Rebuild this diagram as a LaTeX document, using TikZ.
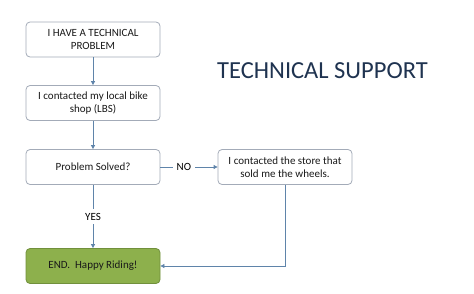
\documentclass[tikz,border=0pt]{standalone}
\usepackage{fontspec}
\setmainfont{Carlito}
\usepackage{xcolor}
\usetikzlibrary{arrows.meta, positioning}

\definecolor{boxline}{HTML}{A3ABB8}
\definecolor{arrowblue}{HTML}{5F84AA}
\definecolor{endgreen}{HTML}{8DB04C}
\definecolor{endline}{HTML}{71903C}
\definecolor{titlenavy}{HTML}{1F3350}

\tikzset{
    stepbox/.style={draw=boxline, thick, rounded corners=4pt, fill=white,
        minimum width=134pt, minimum height=35pt, align=center,
        font=\fontsize{11}{13}\selectfont, text=black!90},
    endbox/.style={stepbox, draw=endline, fill=endgreen},
    flow/.style={-{Triangle[width=4pt,length=4pt]}, draw=arrowblue, thick},
    answer/.style={fill=white, inner sep=4pt, font=\fontsize{11}{13}\selectfont}
}

\begin{document}
\begin{tikzpicture}[x=1pt, y=-1pt]
    \useasboundingbox (0,0) rectangle (474,293);

    % --- Boxes of the left column ---
    \node[stepbox] (problem) at (93, 39.5) {I HAVE A TECHNICAL\\PROBLEM};
    \node[stepbox] (lbs) at (93, 103) {I contacted my local bike\\shop (LBS)};
    \node[stepbox] (solved) at (93, 167) {Problem Solved?};
    \node[endbox] (finish) at (93, 266) {END.\ \ Happy Riding!};

    % --- Box on the right ---
    \node[stepbox] (store) at (285, 167) {I contacted the store that\\sold me the wheels.};

    % --- Title ---
    \node[font=\fontsize{24.5}{28}\selectfont, text=titlenavy] (title) at (322.5, 71) {TECHNICAL SUPPORT};

    % --- Connectors ---
    \draw[flow] (problem) -- (lbs);
    \draw[flow] (lbs) -- (solved);
    \draw[flow] (solved) -- node[answer, pos=0.41] {NO} (store);
    \draw[flow] (solved) -- node[answer] {YES} (finish);
    \draw[flow] (store.south) |- (finish.east);
\end{tikzpicture}
\end{document}
